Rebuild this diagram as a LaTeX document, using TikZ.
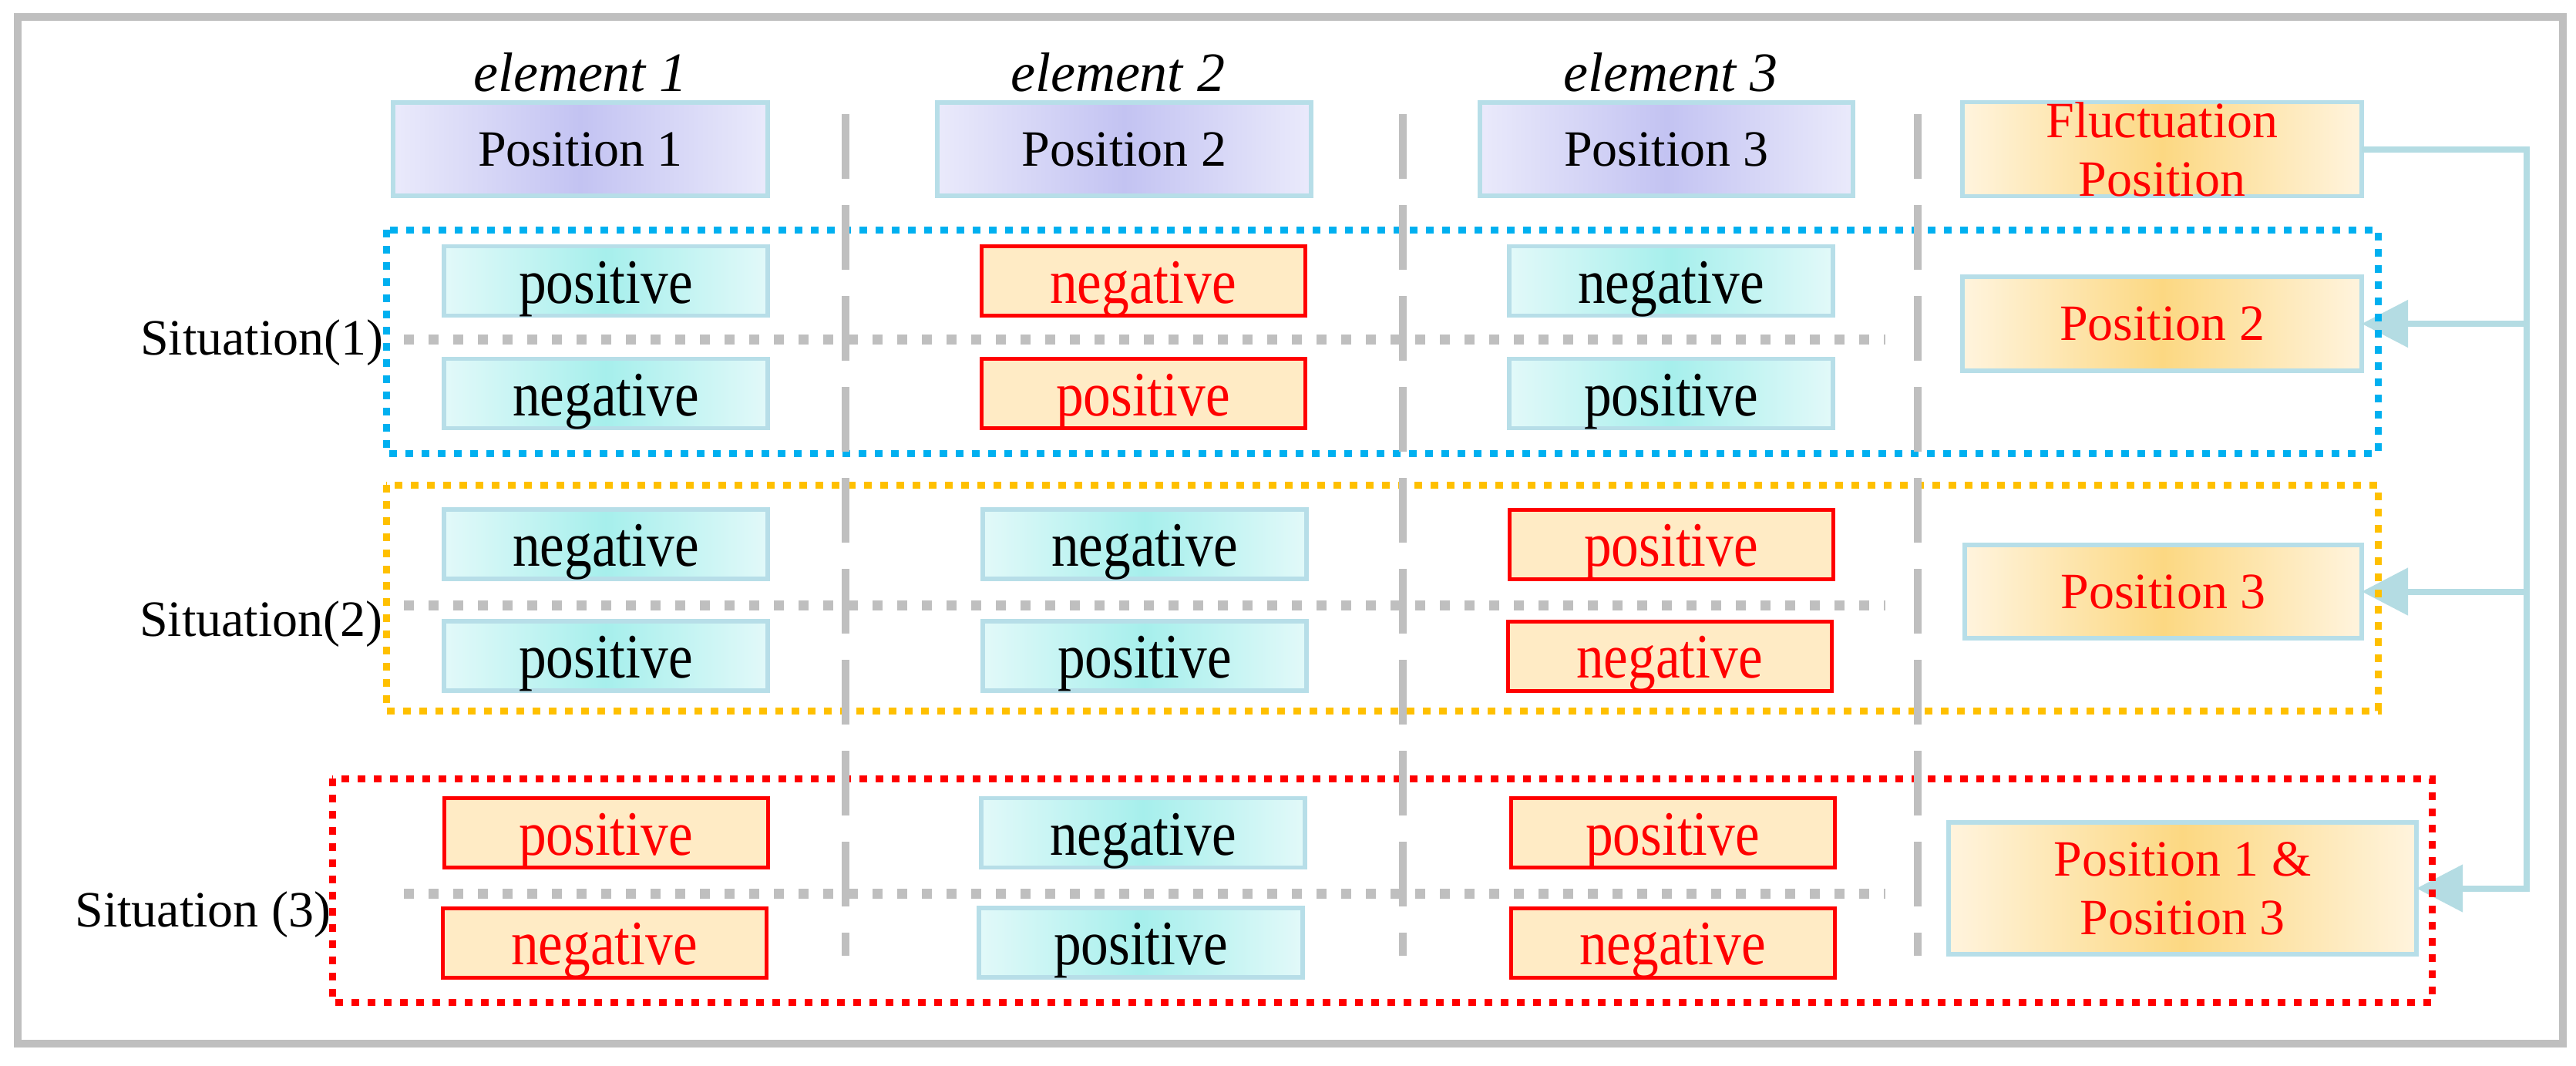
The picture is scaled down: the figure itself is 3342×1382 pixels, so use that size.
\documentclass[tikz,border=0pt]{standalone}
\usepackage{fontspec}
\setmainfont{Liberation Serif}
\newfontfamily\wfont[FakeStretch=0.87]{Liberation Serif}
\usetikzlibrary{arrows.meta}
\definecolor{frameGray}{HTML}{BFBFBF}
\definecolor{lineGray}{HTML}{BFBFBF}
\definecolor{lb}{HTML}{B7DEE8}
\definecolor{conncol}{HTML}{B4DCE3}
\definecolor{pEdge}{HTML}{EAEAFB}
\definecolor{pMid}{HTML}{C3C3F2}
\definecolor{cEdge}{HTML}{E2F9F9}
\definecolor{cMid}{HTML}{A6EFEC}
\definecolor{oEdge}{HTML}{FFF4DE}
\definecolor{oMid}{HTML}{FCD882}
\definecolor{rFill}{HTML}{FFEBC5}
\definecolor{blueF}{HTML}{00B0F0}
\definecolor{orangeF}{HTML}{FFC000}
\definecolor{redF}{HTML}{FF0000}
\begin{document}
\begin{tikzpicture}[x=0.3pt,y=-0.3pt,
  hdr/.style={draw=lb, line width=1.6pt, left color=pEdge, right color=pEdge, middle color=pMid,
    minimum height=36.3pt, inner sep=0pt, outer sep=0pt, font=\fontsize{19.8}{23.1}\selectfont},
  wordbox/.style={minimum width=126pt, minimum height=27pt, inner sep=0pt, outer sep=0pt,
    text height=17.1pt, text depth=0pt, font=\wfont\fontsize{24.6}{28}\selectfont},
  cy/.style={wordbox, draw=lb, line width=1.6pt, left color=cEdge, right color=cEdge, middle color=cMid},
  rd/.style={wordbox, draw=redF, line width=1.5pt, fill=rFill, text=redF},
  org/.style={draw=lb, line width=1.6pt, left color=oEdge, right color=oEdge, middle color=oMid,
    text=redF, align=center, inner sep=0pt, outer sep=0pt, font=\fontsize{19.8}{22.8}\selectfont},
  elab/.style={anchor=base, inner sep=0pt, font=\itshape\fontsize{21.6}{24}\selectfont},
  sit/.style={anchor=base east, inner sep=0pt, font=\fontsize{19.8}{23}\selectfont},
  conn/.style={draw=conncol, line width=2.4pt},
  tip/.style={-{Triangle[length=18pt,width=18pt]}},
  sframe/.style={line width=2.7pt, dash pattern=on 3pt off 3.3pt},
  gdot/.style={draw=lineGray, line width=3.9pt, dash pattern=on 3.9pt off 5.7pt},
  gdash/.style={draw=lineGray, line width=3pt, dash pattern=on 25.2pt off 10.2pt}
]
\useasboundingbox (0,0) rectangle (3342,1382);
\fill[white] (0,0) rectangle (3342,1382);
% outer frame
\draw[draw=frameGray, line width=3pt] (23,22) rectangle (3325,1354);

% header boxes
\node[hdr, minimum width=145.8pt] (h1) at (753,193.5) {Position 1};
\node[hdr, minimum width=145.5pt] (h2) at (1458.5,193.5) {Position 2};
\node[hdr, minimum width=145.2pt] (h3) at (2162,193.5) {Position 3};
\node[org, minimum width=155.4pt, minimum height=36.3pt] (fl) at (2805,193.5) {Fluctuation\\Position};

\node[elab] (e1) at (753,118) {element 1};
\node[elab] (e2) at (1450,118) {element 2};
\node[elab] (e3) at (2167,118) {element 3};

% right column result boxes
\node[org, minimum width=155.4pt, minimum height=36.6pt] (r2) at (2805,420) {Position 2};
\node[org, minimum width=154.5pt, minimum height=36.3pt] (r3) at (2806.5,767.5) {Position 3};
\node[org, minimum width=182.1pt, minimum height=51.3pt] (r13) at (2831.5,1152.5) {Position 1 \&\\Position 3};

% connectors
\coordinate (tr) at (3278,193.5);
\draw[conn, tip] (fl.east) -- (fl.east -| tr) |- (r13.east);
\draw[conn, tip] (r2.east -| tr) -- (r2.east);
\draw[conn, tip] (r3.east -| tr) -- (r3.east);

% situation frames
\draw[sframe, draw=blueF] (501,298) rectangle (3085,588);
\draw[sframe, draw=orangeF] (501,629) rectangle (3085,922);
\draw[sframe, draw=redF] (431,1010) rectangle (3155,1300);

% gray separators
\draw[gdot] (524,440) -- (2446,440);
\draw[gdot] (524,785) -- (2446,785);
\draw[gdot] (524,1159) -- (2446,1159);
\draw[gdash] (1097,148) -- (1097,1240);
\draw[gdash] (1820,148) -- (1820,1240);
\draw[gdash] (2488,148) -- (2488,1240);

% situation 1
\node[cy] (a11) at (786,364.5) {positive};
\node[cy] (b11) at (786,510.5) {negative};
\node[rd] (a12) at (1483,364.5) {negative};
\node[rd] (b12) at (1483,510.5) {positive};
\node[cy] (a13) at (2168,364.5) {negative};
\node[cy] (b13) at (2168,510.5) {positive};

% situation 2
\node[cy] (a21) at (786,706) {negative};
\node[cy] (b21) at (786,851) {positive};
\node[cy] (a22) at (1485,706) {negative};
\node[cy] (b22) at (1485,851) {positive};
\node[rd] (a23) at (2168,706) {positive};
\node[rd] (b23) at (2166,851) {negative};

% situation 3
\node[rd] (a31) at (786,1080.5) {positive};
\node[rd] (b31) at (784,1223) {negative};
\node[cy] (a32) at (1483,1080.5) {negative};
\node[cy] (b32) at (1480,1223) {positive};
\node[rd] (a33) at (2170,1080.5) {positive};
\node[rd] (b33) at (2170,1223) {negative};

% situation labels
\node[sit] (s1) at (498,460) {Situation(1)};
\node[sit] (s2) at (497,825) {Situation(2)};
\node[sit] (s3) at (430,1202) {Situation (3)};
\end{tikzpicture}
\end{document}
